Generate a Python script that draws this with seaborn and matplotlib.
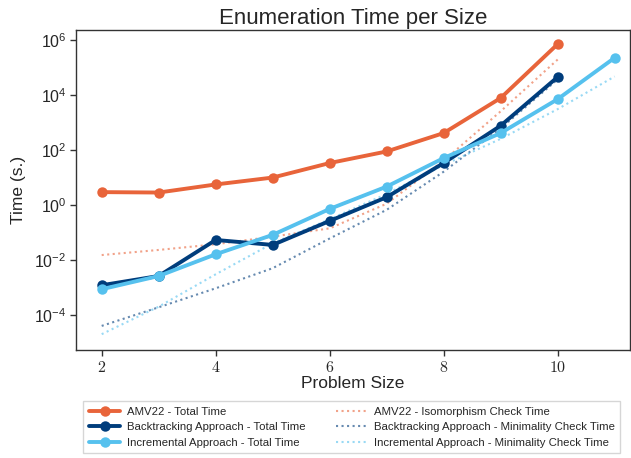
import matplotlib
matplotlib.use("Agg")
import matplotlib.pyplot as plt
import seaborn as sns
import pandas as pd
import numpy as np

sizes_10 = [2, 3, 4, 5, 6, 7, 8, 9, 10]
sizes_11 = [2, 3, 4, 5, 6, 7, 8, 9, 10, 11]

amv_total = [2.9, 2.8, 5.5, 9.8, 33, 87, 405, 7600, 6.9e5]
back_total = [1.2e-3, 2.6e-3, 0.053, 0.035, 0.26, 1.9, 33, 750, 4.4e4]
inc_total = [8.6e-4, 2.6e-3, 0.016, 0.081, 0.71, 4.6, 50, 405, 6900, 2.2e5]

amv_iso = [0.015, 0.023, 0.037, 0.07, 0.14, 1.1, 40, 2500, 1.9e5]
back_min = [4e-5, 1.9e-4, 9.3e-4, 5e-3, 0.06, 0.66, 16, 600, 3.6e4]
inc_min = [2e-5, 2e-4, 3e-3, 0.04, 0.3, 2.5, 28, 250, 3000, 4.6e4]

labels = [
    "AMV22 - Total Time",
    "Backtracking Approach - Total Time",
    "Incremental Approach - Total Time",
    "AMV22 - Isomorphism Check Time",
    "Backtracking Approach - Minimality Check Time",
    "Incremental Approach - Minimality Check Time",
]

c_orange = "#E8643A"
c_dark = "#003D7C"
c_light = "#56C1EE"

sns.set_style("ticks")
plt.rcParams["font.family"] = ["Liberation Sans", "DejaVu Sans"]
plt.rcParams["mathtext.fontset"] = "cm"

fig = plt.figure(figsize=(6.31, 4.58), dpi=100)
ax = fig.add_axes([0.1205, 0.236, 0.878, 0.699])

series = [
    (sizes_10, back_min, labels[4], c_dark, ":", None, 1.5, 0.6),
    (sizes_11, inc_min, labels[5], c_light, ":", None, 1.5, 0.6),
    (sizes_10, amv_iso, labels[3], c_orange, ":", None, 1.5, 0.6),
    (sizes_10, amv_total, labels[0], c_orange, "-", "o", 2.8, 1.0),
    (sizes_10, back_total, labels[1], c_dark, "-", "o", 2.8, 1.0),
    (sizes_11, inc_total, labels[2], c_light, "-", "o", 2.8, 1.0),
]

handles = {}
for xs, ys, lab, col, ls, mk, lw, al in series:
    df = pd.DataFrame({"size": xs, "time": ys})
    sns.lineplot(data=df, x="size", y="time", ax=ax, color=col, linestyle=ls,
                 marker=mk, markersize=7.5 if mk else 0, markeredgewidth=0,
                 linewidth=lw, alpha=al, label=lab)
    handles[lab] = ax.lines[-1]

ax.set_yscale("log")
ax.set_xlim(1.55, 11.27)
ax.set_ylim(10 ** -5.27, 10 ** 6.36)
ax.set_xticks([2, 4, 6, 8, 10])
ax.set_xticklabels([r"$2$", r"$4$", r"$6$", r"$8$", r"$10$"])
ax.set_yticks([1e-4, 1e-2, 1e0, 1e2, 1e4, 1e6])
ax.yaxis.set_minor_locator(matplotlib.ticker.NullLocator())
ax.tick_params(axis="both", labelsize=11.5, length=4, width=1, color="#333333", pad=3)
for s in ax.spines.values():
    s.set_color("#333333")
    s.set_linewidth(1.0)

ax.set_xlabel("Problem Size", fontsize=12.5, labelpad=1)
ax.set_ylabel("Time (s.)", fontsize=12.5, labelpad=6)
ax.set_title("Enumeration Time per Size", fontsize=16, pad=4)

ax.legend([handles[l] for l in labels], labels, loc="upper center",
          bbox_to_anchor=(0.498, -0.143), ncol=2, fontsize=8.2,
          frameon=True, fancybox=False, edgecolor="#cccccc",
          handlelength=2.8, handletextpad=0.6, columnspacing=2.6,
          labelspacing=0.5, borderpad=0.45)

fig.savefig("out.png", dpi=100)
